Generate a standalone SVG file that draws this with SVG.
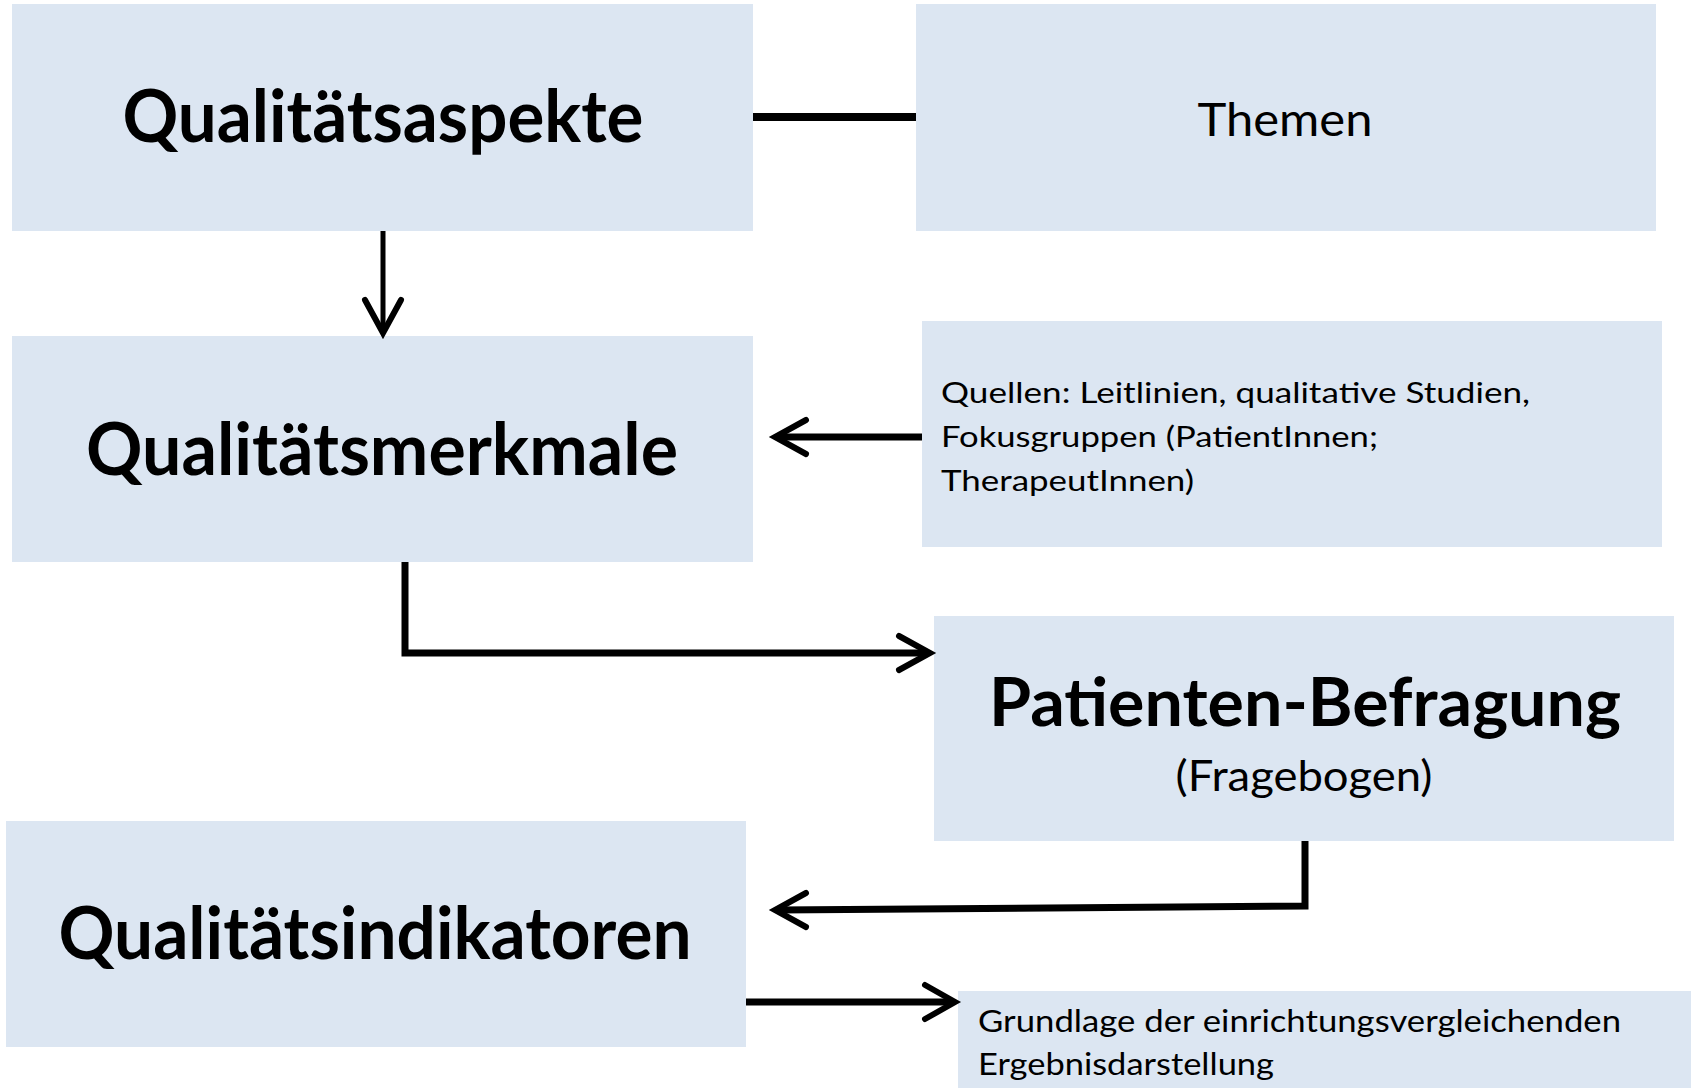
<svg xmlns="http://www.w3.org/2000/svg" width="1691" height="1088" viewBox="0 0 1691 1088">
<style>
.box{fill:#DCE6F2}
.big{font-family:Lato,"Open Sans","Liberation Sans",sans-serif;font-weight:bold;fill:#000}
.reg{font-family:Lato,"Open Sans","Liberation Sans",sans-serif;font-weight:normal;fill:#000}
.ln{fill:none;stroke:#000;stroke-linecap:butt;stroke-linejoin:miter}
.hd{fill:none;stroke:#000;stroke-width:6;stroke-linecap:round;stroke-linejoin:miter}
</style>
<rect width="1691" height="1088" fill="#fff"/>
<g id="n-aspekte">
<rect class="box" x="12" y="4" width="741" height="227"/>
<text class="big" x="383" y="142" font-size="72" text-anchor="middle" textLength="521" lengthAdjust="spacingAndGlyphs">Qualitätsaspekte</text>
</g>
<g id="n-themen">
<rect class="box" x="916" y="4" width="740" height="227"/>
<text class="reg" x="1285" y="136" font-size="47" text-anchor="middle" textLength="175" lengthAdjust="spacingAndGlyphs">Themen</text>
</g>
<g id="n-merkmale">
<rect class="box" x="12" y="336" width="741" height="226"/>
<text class="big" x="382" y="475" font-size="72" text-anchor="middle" textLength="592" lengthAdjust="spacingAndGlyphs">Qualitätsmerkmale</text>
</g>
<g id="n-quellen">
<rect class="box" x="922" y="321" width="740" height="226"/>
<text class="reg" x="941" y="403" font-size="29" textLength="589" lengthAdjust="spacingAndGlyphs">Quellen: Leitlinien, qualitative Studien,</text>
<text class="reg" x="941" y="447" font-size="29" textLength="437" lengthAdjust="spacingAndGlyphs">Fokusgruppen (PatientInnen;</text>
<text class="reg" x="941" y="491" font-size="29" textLength="253" lengthAdjust="spacingAndGlyphs">TherapeutInnen)</text>
</g>
<g id="n-befragung">
<rect class="box" x="934" y="616" width="740" height="225"/>
<text class="big" x="1305" y="726" font-size="67" text-anchor="middle" textLength="632" lengthAdjust="spacingAndGlyphs">Patienten-Befragung</text>
<text class="reg" x="1304" y="791" font-size="43" text-anchor="middle" textLength="257" lengthAdjust="spacingAndGlyphs">(Fragebogen)</text>
</g>
<g id="n-indikatoren">
<rect class="box" x="6" y="821" width="740" height="226"/>
<text class="big" x="375" y="959" font-size="72" text-anchor="middle" textLength="633" lengthAdjust="spacingAndGlyphs">Qualitätsindikatoren</text>
</g>
<g id="n-grundlage">
<rect class="box" x="958" y="991" width="733" height="97"/>
<text class="reg" x="978" y="1032" font-size="30" textLength="643" lengthAdjust="spacingAndGlyphs">Grundlage der einrichtungsvergleichenden</text>
<text class="reg" x="978" y="1075" font-size="30" textLength="296" lengthAdjust="spacingAndGlyphs">Ergebnisdarstellung</text>
</g>
<g id="connectors">
<line class="ln" x1="753" y1="117" x2="916" y2="117" stroke-width="8"/>
<line class="ln" x1="383" y1="231" x2="383" y2="330" stroke-width="5"/>
<path class="hd" d="M365 300 L383 333 L401 300"/>
<line class="ln" x1="922" y1="437" x2="778" y2="437" stroke-width="7"/>
<path class="hd" d="M806 420 L775 437 L806 454"/>
<path class="ln" d="M405 562 L405 653 L928 653" stroke-width="7"/>
<path class="hd" d="M899 636 L930 653 L899 670"/>
<path class="ln" d="M1305 841 L1305 906 L778 910" stroke-width="7"/>
<path class="hd" d="M806 893 L775 910 L806 927"/>
<line class="ln" x1="746" y1="1002" x2="952" y2="1002" stroke-width="7"/>
<path class="hd" d="M925 985 L955 1002 L925 1019"/>
</g>
</svg>
